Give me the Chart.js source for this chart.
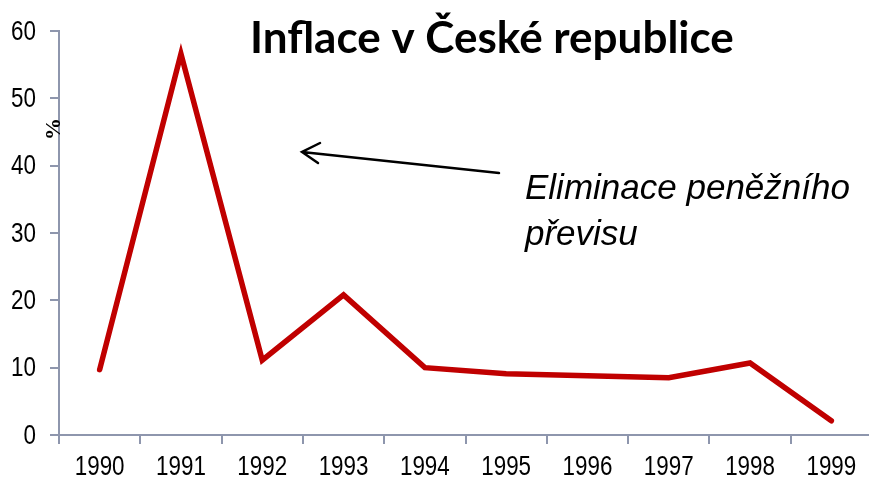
<!DOCTYPE html>
<html>
<head>
<meta charset="utf-8">
<script src="https://cdn.jsdelivr.net/npm/chart.js@4.4.0/dist/chart.umd.min.js"></script>
<style>
  html, body { margin: 0; padding: 0; background: #fff; overflow: hidden; }
  #wrap { width: 876px; height: 478px; }
</style>
</head>
<body>
<div id="wrap"><canvas id="myChart"></canvas></div>
<script>
const years = ['1990', '1991', '1992', '1993', '1994', '1995', '1996', '1997', '1998', '1999'];
const inflation = [9.7, 56.6, 11.1, 20.8, 10.0, 9.1, 8.8, 8.5, 10.7, 2.1];
const yTicks = [0, 10, 20, 30, 40, 50, 60];

const axisColor = '#8e96ad';
const narrow = 0.8; // squeeze Liberation Sans to look like Arial Narrow
const labelFont = "28px 'Liberation Sans', Arial, sans-serif";

// draw squeezed text: x is the anchor, align 'left' | 'center' | 'right'
function narrowText(ctx, txt, x, y, align, squeeze) {
    const w = ctx.measureText(txt).width * squeeze;
    let left = x;
    if (align === 'center') left = x - w / 2;
    if (align === 'right') left = x - w;
    ctx.save();
    ctx.translate(left, y);
    ctx.scale(squeeze, 1);
    ctx.textAlign = 'left';
    ctx.fillText(txt, 0, 0);
    ctx.restore();
}

// tick labels, title, % label, arrow and note
const extras = {
    id: 'extras',
    afterDraw(chart) {
        const ctx = chart.ctx;
        const xs = chart.scales.x, ys = chart.scales.y;
        ctx.save();
        ctx.fillStyle = '#000';

        ctx.font = labelFont;
        ctx.textBaseline = 'middle';
        yTicks.forEach(v => narrowText(ctx, String(v), 36, ys.getPixelForValue(v) + 1, 'right', narrow));
        years.forEach((y, i) => narrowText(ctx, y, xs.getPixelForValue(i), 467, 'center', narrow));

        ctx.textBaseline = 'alphabetic';
        ctx.font = "bold 44px Lato, 'Open Sans', sans-serif";
        ctx.textAlign = 'left';
        ctx.fillText('Inflace v České republice', 250, 53);

        ctx.font = "italic 35px 'Liberation Sans', Arial, sans-serif";
        narrowText(ctx, 'Eliminace peněžního', 525, 199, 'left', 1.0);
        narrowText(ctx, 'převisu', 525, 245, 'left', 1.0);

        // arrow
        ctx.strokeStyle = '#000';
        ctx.lineWidth = 2.5;
        ctx.lineCap = 'round';
        ctx.beginPath();
        ctx.moveTo(499, 173);
        ctx.lineTo(302, 152);
        ctx.moveTo(320, 143);
        ctx.lineTo(302, 152);
        ctx.lineTo(318, 163);
        ctx.stroke();

        // % axis label
        ctx.translate(60, 129);
        ctx.rotate(-Math.PI / 2);
        ctx.font = "bold 22px 'Liberation Serif', serif";
        ctx.textAlign = 'center';
        ctx.fillText('%', 0, 0);
        ctx.restore();
    }
};

new Chart(document.getElementById('myChart'), {
    type: 'line',
    data: {
        labels: years,
        datasets: [{
            data: inflation,
            borderColor: '#c00000',
            borderWidth: 5.5,
            borderCapStyle: 'round',
            borderJoinStyle: 'miter',
            pointRadius: 0,
            tension: 0
        }]
    },
    options: {
        responsive: true,
        maintainAspectRatio: false,
        animation: false,
        layout: { padding: { top: 31, right: 4, bottom: 34, left: 50 } },
        plugins: { legend: { display: false }, tooltip: { enabled: false } },
        scales: {
            x: {
                offset: true,
                grid: { offset: true, drawOnChartArea: false, tickLength: 9, color: axisColor, lineWidth: 2 },
                border: { color: axisColor, width: 2 },
                ticks: { display: false }
            },
            y: {
                min: 0,
                max: 60,
                afterBuildTicks(axis) { axis.ticks = yTicks.map(v => ({ value: v })); },
                grid: { drawOnChartArea: false, tickLength: 9, color: axisColor, lineWidth: 2 },
                border: { color: axisColor, width: 2 },
                ticks: { display: false }
            }
        }
    },
    plugins: [extras]
});
</script>
</body>
</html>
